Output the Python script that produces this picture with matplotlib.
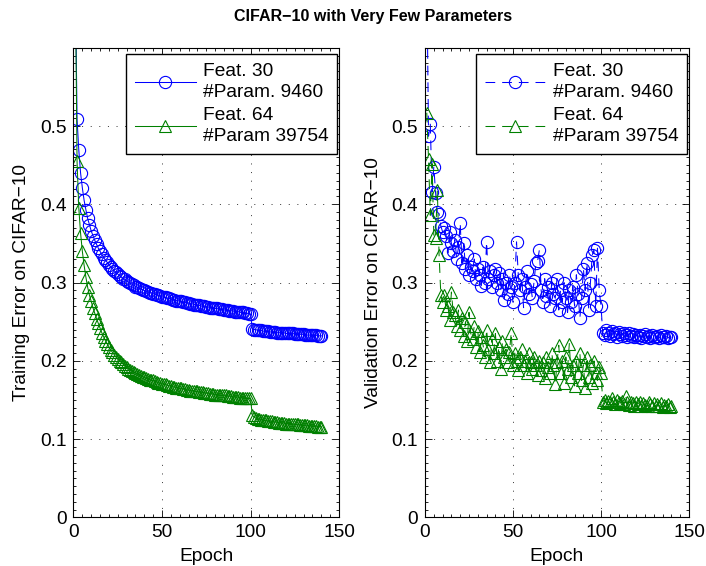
# CIFAR-10 with very few parameters
# Training and validation error per epoch for two network widths

import matplotlib
matplotlib.use("Agg")
import matplotlib.pyplot as plt
from matplotlib.ticker import MultipleLocator

plt.rcParams['font.family'] = ['Liberation Sans', 'DejaVu Sans']
plt.rcParams['lines.scale_dashes'] = False

# Data (epochs 1..140)
epochs = list(range(1, 141))

train_feat30 = [
    0.700, 0.509, 0.469, 0.440, 0.421, 0.405, 0.393, 0.382, 0.374, 0.366,
    0.360, 0.354, 0.349, 0.344, 0.340, 0.336, 0.332, 0.329, 0.326, 0.323,
    0.320, 0.318, 0.315, 0.313, 0.311, 0.309, 0.307, 0.305, 0.304, 0.302,
    0.301, 0.299, 0.298, 0.297, 0.295, 0.294, 0.293, 0.292, 0.291, 0.290,
    0.289, 0.288, 0.287, 0.287, 0.286, 0.285, 0.284, 0.284, 0.283, 0.282,
    0.281, 0.281, 0.280, 0.280, 0.279, 0.278, 0.278, 0.277, 0.277, 0.276,
    0.276, 0.275, 0.275, 0.274, 0.274, 0.273, 0.273, 0.272, 0.272, 0.271,
    0.271, 0.270, 0.270, 0.270, 0.269, 0.269, 0.268, 0.268, 0.268, 0.267,
    0.267, 0.266, 0.266, 0.266, 0.265, 0.265, 0.265, 0.264, 0.264, 0.264,
    0.263, 0.263, 0.263, 0.262, 0.262, 0.262, 0.261, 0.261, 0.260, 0.260,
    0.241, 0.240, 0.240, 0.239, 0.239, 0.239, 0.238, 0.238, 0.238, 0.238,
    0.237, 0.237, 0.237, 0.237, 0.236, 0.236, 0.236, 0.236, 0.236, 0.235,
    0.235, 0.235, 0.235, 0.235, 0.234, 0.234, 0.234, 0.234, 0.234, 0.234,
    0.233, 0.233, 0.233, 0.233, 0.233, 0.233, 0.233, 0.232, 0.232, 0.232,
]

train_feat64 = [
    0.700, 0.455, 0.395, 0.363, 0.340, 0.322, 0.307, 0.294, 0.284, 0.276,
    0.268, 0.261, 0.254, 0.248, 0.242, 0.236, 0.231, 0.226, 0.222, 0.218,
    0.214, 0.211, 0.208, 0.205, 0.202, 0.200, 0.198, 0.196, 0.194, 0.192,
    0.190, 0.189, 0.187, 0.186, 0.185, 0.183, 0.182, 0.181, 0.180, 0.179,
    0.178, 0.177, 0.176, 0.175, 0.175, 0.174, 0.173, 0.172, 0.172, 0.171,
    0.170, 0.170, 0.169, 0.168, 0.168, 0.167, 0.167, 0.166, 0.166, 0.165,
    0.165, 0.164, 0.164, 0.163, 0.163, 0.162, 0.162, 0.162, 0.161, 0.161,
    0.160, 0.160, 0.160, 0.159, 0.159, 0.159, 0.158, 0.158, 0.158, 0.157,
    0.157, 0.157, 0.156, 0.156, 0.156, 0.156, 0.155, 0.155, 0.155, 0.154,
    0.154, 0.154, 0.154, 0.153, 0.153, 0.153, 0.153, 0.152, 0.152, 0.152,
    0.131, 0.128, 0.127, 0.126, 0.126, 0.125, 0.125, 0.124, 0.124, 0.123,
    0.123, 0.123, 0.122, 0.122, 0.122, 0.121, 0.121, 0.121, 0.121, 0.120,
    0.120, 0.120, 0.120, 0.119, 0.119, 0.119, 0.119, 0.118, 0.118, 0.118,
    0.118, 0.118, 0.117, 0.117, 0.117, 0.117, 0.117, 0.116, 0.116, 0.116,
]

val_feat30 = [
    0.700, 0.487, 0.503, 0.416, 0.448, 0.415, 0.390, 0.388, 0.372, 0.365,
    0.370, 0.360, 0.338, 0.365, 0.350, 0.340, 0.355, 0.330, 0.345, 0.376,
    0.325, 0.350, 0.318, 0.335, 0.310, 0.320, 0.315, 0.330, 0.305, 0.318,
    0.310, 0.296, 0.320, 0.300, 0.352, 0.305, 0.315, 0.295, 0.310, 0.318,
    0.300, 0.312, 0.290, 0.305, 0.278, 0.300, 0.285, 0.310, 0.295, 0.275,
    0.300, 0.352, 0.310, 0.290, 0.305, 0.268, 0.295, 0.315, 0.285, 0.298,
    0.280, 0.302, 0.325, 0.328, 0.342, 0.290, 0.275, 0.305, 0.283, 0.295,
    0.270, 0.300, 0.285, 0.280, 0.305, 0.265, 0.290, 0.275, 0.300, 0.280,
    0.262, 0.290, 0.275, 0.295, 0.270, 0.310, 0.285, 0.255, 0.280, 0.318,
    0.290, 0.325, 0.265, 0.300, 0.335, 0.342, 0.270, 0.344, 0.290, 0.270,
    0.236, 0.233, 0.240, 0.235, 0.232, 0.238, 0.234, 0.236, 0.231, 0.237,
    0.234, 0.232, 0.236, 0.233, 0.231, 0.235, 0.232, 0.234, 0.230, 0.233,
    0.231, 0.233, 0.229, 0.232, 0.234, 0.230, 0.232, 0.229, 0.233, 0.231,
    0.230, 0.232, 0.229, 0.233, 0.231, 0.230, 0.232, 0.229, 0.231, 0.230,
]

val_feat64 = [
    0.517, 0.458, 0.386, 0.452, 0.361, 0.357, 0.418, 0.335, 0.284, 0.275,
    0.284, 0.265, 0.270, 0.252, 0.288, 0.262, 0.258, 0.245, 0.265, 0.240,
    0.255, 0.232, 0.250, 0.225, 0.262, 0.235, 0.228, 0.245, 0.218, 0.238,
    0.212, 0.230, 0.220, 0.205, 0.240, 0.215, 0.198, 0.228, 0.210, 0.235,
    0.200, 0.218, 0.190, 0.225, 0.205, 0.215, 0.198, 0.212, 0.236, 0.195,
    0.210, 0.200, 0.188, 0.205, 0.215, 0.195, 0.200, 0.185, 0.210, 0.198,
    0.190, 0.205, 0.195, 0.182, 0.200, 0.188, 0.198, 0.178, 0.205, 0.192,
    0.185, 0.210, 0.195, 0.170, 0.198, 0.220, 0.185, 0.200, 0.172, 0.205,
    0.190, 0.222, 0.180, 0.195, 0.168, 0.200, 0.185, 0.210, 0.175, 0.195,
    0.165, 0.205, 0.180, 0.195, 0.172, 0.200, 0.185, 0.175, 0.192, 0.185,
    0.148, 0.150, 0.146, 0.149, 0.147, 0.152, 0.148, 0.145, 0.150, 0.147,
    0.146, 0.149, 0.145, 0.155, 0.147, 0.144, 0.148, 0.146, 0.143, 0.147,
    0.145, 0.148, 0.143, 0.146, 0.144, 0.142, 0.147, 0.145, 0.143, 0.146,
    0.142, 0.145, 0.143, 0.146, 0.141, 0.144, 0.142, 0.145, 0.141, 0.142,
]

labels = ['Feat. 30\n#Param. 9460', 'Feat. 64\n#Param 39754']
colors = ['#0000ff', '#008000']
markers = ['o', '^']

FS = 13.8


# Style one panel like a MATLAB axes
def style_axes(ax, ylabel):
    ax.set_xlim(0, 150)
    ax.set_ylim(0, 0.6)
    ax.set_xticks([0, 50, 100, 150])
    ax.set_yticks([0, 0.1, 0.2, 0.3, 0.4, 0.5])
    ax.set_yticklabels(['0', '0.1', '0.2', '0.3', '0.4', '0.5'])
    ax.xaxis.set_minor_locator(MultipleLocator(5))
    ax.yaxis.set_minor_locator(MultipleLocator(0.01))
    ax.tick_params(which='both', direction='in', top=True, right=True,
                   labelsize=FS, width=0.6)
    ax.tick_params(which='major', length=5, pad=5)
    ax.tick_params(which='minor', length=2.5)
    ax.grid(True, which='major', color='0.2', linewidth=0.7,
            linestyle=(0, (0.7, 5.5)))
    ax.set_axisbelow(True)
    for s in ax.spines.values():
        s.set_linewidth(0.8)
    ax.set_xlabel('Epoch', fontsize=FS, labelpad=5)
    ax.set_ylabel(ylabel, fontsize=FS, labelpad=7)


def draw_panel(ax, series, linestyle, ylabel):
    for vals, lab, c, m in zip(series, labels, colors, markers):
        ax.plot(epochs, vals, color=c, linestyle=linestyle, linewidth=0.75,
                marker=m, markersize=8.8, markerfacecolor='none',
                markeredgewidth=0.8, label=lab)
    style_axes(ax, ylabel)
    leg = ax.legend(loc='upper right', bbox_to_anchor=(0.9925, 0.9866),
                    borderaxespad=0, fontsize=FS, handlelength=3.2,
                    handletextpad=0.35, labelspacing=0.3, borderpad=0.45,
                    fancybox=False, framealpha=1)
    for t in leg.get_texts():
        t.set_linespacing(1.35)
    leg.get_frame().set_edgecolor('black')
    leg.get_frame().set_linewidth(1.0)


fig = plt.figure(figsize=(7.06, 5.66), dpi=100)
ax1 = fig.add_axes([0.1041, 0.0857, 0.3761, 0.8300])
ax2 = fig.add_axes([0.6020, 0.0857, 0.3739, 0.8300])

draw_panel(ax1, [train_feat30, train_feat64], '-',
           'Training Error on CIFAR\u221210')
draw_panel(ax2, [val_feat30, val_feat64], (0, (7, 5)),
           'Validation Error on CIFAR\u221210')

fig.text(0.528, 1 - 17 / 566, 'CIFAR\u221210 with Very Few Parameters',
         ha='center', va='center', fontsize=11.5, fontweight='bold')

fig.savefig('out.png', dpi=100)
